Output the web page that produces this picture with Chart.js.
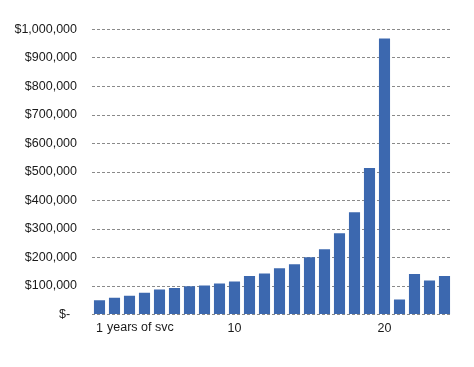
<!DOCTYPE html>
<html>
<head>
<meta charset="utf-8">
<script src="https://cdn.jsdelivr.net/npm/chart.js@4.4.0/dist/chart.umd.min.js"></script>
<style>
html,body{margin:0;padding:0;background:#fff;}
#wrap{width:474px;height:367px;}
</style>
</head>
<body>
<div id="wrap"><canvas id="c" width="474" height="367"></canvas></div>
<script>
const years = [1,2,3,4,5,6,7,8,9,10,11,12,13,14,15,16,17,18,19,20,21,22,23,24];
const values = [50000,59000,66000,76000,88000,93000,99000,102000,109000,116000,135000,144000,162000,176000,201000,229000,285000,359000,514000,968000,53000,142000,119000,135000];
const shownXLabels = [1,10,20];
const axisNote = 'years of svc';
const yMin = 0, yMax = 1000000, yStep = 100000;

const FONT = {family:'"Liberation Sans", Arial, sans-serif', size:12.5};
const TXT = '#1a1a1a';

const notePlugin = {
  id:'note',
  afterDraw(chart){
    const x = chart.scales.x;
    const ctx = chart.ctx;
    ctx.save();
    ctx.font = '12.5px "Liberation Sans", Arial, sans-serif';
    ctx.fillStyle = TXT;
    ctx.textAlign = 'left';
    ctx.textBaseline = 'middle';
    const px = x.getPixelForValue(0) + 7.5;
    const py = x.top + 7 + 6.25;
    ctx.fillText(axisNote, px, py);
    ctx.restore();
  }
};

new Chart(document.getElementById('c'), {
  type:'bar',
  data:{
    labels: years.map(String),
    datasets:[{
      data: values,
      backgroundColor:'#3C68AF',
      borderWidth:0,
      barPercentage:0.74,
      categoryPercentage:1.0
    }]
  },
  options:{
    responsive:false,
    animation:false,
    devicePixelRatio:1,
    layout:{padding:{left:4,right:22,top:29.5,bottom:23.5}},
    plugins:{legend:{display:false},tooltip:{enabled:false}},
    scales:{
      x:{
        grid:{display:false,drawTicks:false},
        border:{display:false},
        ticks:{
          autoSkip:false,maxRotation:0,padding:7,
          font:FONT,color:TXT,
          callback:function(v,i){ const y = years[i]; return shownXLabels.includes(y) ? String(y) : ''; }
        }
      },
      y:{
        min:yMin,max:yMax,
        afterFit:function(s){ s.width = 88; },
        grid:{color:'#8a8a8a',lineWidth:1,drawTicks:false},
        border:{display:false,dash:[3,2]},
        ticks:{
          stepSize:yStep,padding:15,
          font:FONT,color:TXT,
          callback:function(v){ return v===0 ? '$-  ' : '$' + Number(v).toLocaleString('en-US'); }
        }
      }
    }
  },
  plugins:[notePlugin]
});
</script>
</body>
</html>
